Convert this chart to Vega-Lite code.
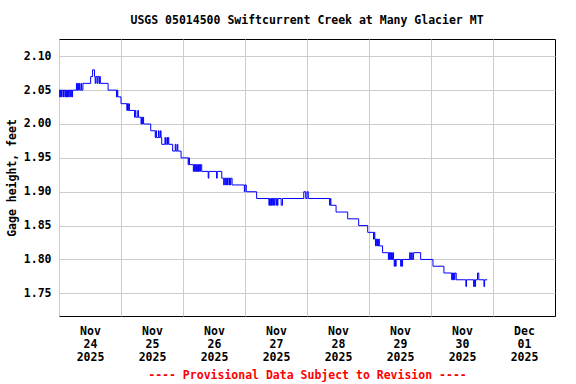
{
  "$schema": "https://vega.github.io/schema/vega-lite/v6.json",
  "width": 496,
  "height": 277,
  "autosize": "none",
  "padding": {"left": 59, "top": 39, "right": 21, "bottom": 68},
  "background": "white",
  "config": {
    "view": {"stroke": "black", "strokeWidth": 1},
    "font": "DejaVu Sans Mono"
  },
  "title": {
    "text": "USGS 05014500 Swiftcurrent Creek at Many Glacier MT",
    "font": "DejaVu Sans Mono",
    "fontSize": 11.5,
    "fontWeight": "bold",
    "color": "black",
    "anchor": "middle",
    "frame": "group",
    "baseline": "alphabetic",
    "offset": 4
  },
  "data": {
    "values": [
      {"t": "2025-11-24T00:00", "v": 2.05},
      {"t": "2025-11-24T00:15", "v": 2.04},
      {"t": "2025-11-24T00:30", "v": 2.05},
      {"t": "2025-11-24T00:45", "v": 2.04},
      {"t": "2025-11-24T01:00", "v": 2.05},
      {"t": "2025-11-24T01:30", "v": 2.04},
      {"t": "2025-11-24T01:45", "v": 2.05},
      {"t": "2025-11-24T02:15", "v": 2.04},
      {"t": "2025-11-24T02:30", "v": 2.05},
      {"t": "2025-11-24T02:45", "v": 2.04},
      {"t": "2025-11-24T03:00", "v": 2.05},
      {"t": "2025-11-24T03:15", "v": 2.04},
      {"t": "2025-11-24T03:30", "v": 2.05},
      {"t": "2025-11-24T03:45", "v": 2.04},
      {"t": "2025-11-24T04:00", "v": 2.05},
      {"t": "2025-11-24T04:30", "v": 2.04},
      {"t": "2025-11-24T04:45", "v": 2.05},
      {"t": "2025-11-24T05:00", "v": 2.04},
      {"t": "2025-11-24T05:15", "v": 2.05},
      {"t": "2025-11-24T06:45", "v": 2.06},
      {"t": "2025-11-24T07:00", "v": 2.05},
      {"t": "2025-11-24T07:15", "v": 2.06},
      {"t": "2025-11-24T07:30", "v": 2.05},
      {"t": "2025-11-24T07:45", "v": 2.06},
      {"t": "2025-11-24T08:00", "v": 2.05},
      {"t": "2025-11-24T08:30", "v": 2.06},
      {"t": "2025-11-24T08:45", "v": 2.05},
      {"t": "2025-11-24T09:15", "v": 2.06},
      {"t": "2025-11-24T12:15", "v": 2.07},
      {"t": "2025-11-24T13:00", "v": 2.08},
      {"t": "2025-11-24T13:45", "v": 2.07},
      {"t": "2025-11-24T14:00", "v": 2.06},
      {"t": "2025-11-24T14:15", "v": 2.07},
      {"t": "2025-11-24T14:45", "v": 2.06},
      {"t": "2025-11-24T15:00", "v": 2.07},
      {"t": "2025-11-24T15:30", "v": 2.06},
      {"t": "2025-11-24T15:45", "v": 2.07},
      {"t": "2025-11-24T16:00", "v": 2.06},
      {"t": "2025-11-24T19:00", "v": 2.05},
      {"t": "2025-11-24T22:15", "v": 2.04},
      {"t": "2025-11-24T22:30", "v": 2.05},
      {"t": "2025-11-24T22:45", "v": 2.04},
      {"t": "2025-11-25T00:00", "v": 2.03},
      {"t": "2025-11-25T02:15", "v": 2.02},
      {"t": "2025-11-25T02:30", "v": 2.03},
      {"t": "2025-11-25T02:45", "v": 2.02},
      {"t": "2025-11-25T03:00", "v": 2.03},
      {"t": "2025-11-25T03:15", "v": 2.02},
      {"t": "2025-11-25T05:15", "v": 2.01},
      {"t": "2025-11-25T05:30", "v": 2.02},
      {"t": "2025-11-25T05:45", "v": 2.01},
      {"t": "2025-11-25T06:30", "v": 2.02},
      {"t": "2025-11-25T06:45", "v": 2.01},
      {"t": "2025-11-25T07:45", "v": 2.00},
      {"t": "2025-11-25T08:00", "v": 2.01},
      {"t": "2025-11-25T08:15", "v": 2.00},
      {"t": "2025-11-25T08:30", "v": 2.01},
      {"t": "2025-11-25T08:45", "v": 2.00},
      {"t": "2025-11-25T11:30", "v": 1.99},
      {"t": "2025-11-25T13:15", "v": 1.98},
      {"t": "2025-11-25T13:30", "v": 1.99},
      {"t": "2025-11-25T13:45", "v": 1.98},
      {"t": "2025-11-25T14:30", "v": 1.99},
      {"t": "2025-11-25T14:45", "v": 1.98},
      {"t": "2025-11-25T15:15", "v": 1.99},
      {"t": "2025-11-25T15:30", "v": 1.98},
      {"t": "2025-11-25T15:45", "v": 1.97},
      {"t": "2025-11-25T17:00", "v": 1.98},
      {"t": "2025-11-25T17:15", "v": 1.97},
      {"t": "2025-11-25T17:45", "v": 1.98},
      {"t": "2025-11-25T18:00", "v": 1.97},
      {"t": "2025-11-25T18:15", "v": 1.98},
      {"t": "2025-11-25T18:30", "v": 1.97},
      {"t": "2025-11-25T20:00", "v": 1.96},
      {"t": "2025-11-25T21:00", "v": 1.97},
      {"t": "2025-11-25T21:15", "v": 1.96},
      {"t": "2025-11-25T21:45", "v": 1.97},
      {"t": "2025-11-25T22:00", "v": 1.96},
      {"t": "2025-11-25T23:15", "v": 1.95},
      {"t": "2025-11-26T02:00", "v": 1.94},
      {"t": "2025-11-26T02:15", "v": 1.95},
      {"t": "2025-11-26T02:30", "v": 1.94},
      {"t": "2025-11-26T04:00", "v": 1.93},
      {"t": "2025-11-26T04:15", "v": 1.94},
      {"t": "2025-11-26T04:30", "v": 1.93},
      {"t": "2025-11-26T04:45", "v": 1.94},
      {"t": "2025-11-26T05:00", "v": 1.93},
      {"t": "2025-11-26T05:15", "v": 1.94},
      {"t": "2025-11-26T05:30", "v": 1.93},
      {"t": "2025-11-26T05:45", "v": 1.94},
      {"t": "2025-11-26T06:00", "v": 1.93},
      {"t": "2025-11-26T06:15", "v": 1.94},
      {"t": "2025-11-26T06:30", "v": 1.93},
      {"t": "2025-11-26T06:45", "v": 1.94},
      {"t": "2025-11-26T07:15", "v": 1.93},
      {"t": "2025-11-26T09:45", "v": 1.92},
      {"t": "2025-11-26T10:00", "v": 1.93},
      {"t": "2025-11-26T13:00", "v": 1.92},
      {"t": "2025-11-26T13:15", "v": 1.93},
      {"t": "2025-11-26T15:00", "v": 1.92},
      {"t": "2025-11-26T15:45", "v": 1.91},
      {"t": "2025-11-26T16:00", "v": 1.92},
      {"t": "2025-11-26T16:30", "v": 1.91},
      {"t": "2025-11-26T16:45", "v": 1.92},
      {"t": "2025-11-26T17:00", "v": 1.91},
      {"t": "2025-11-26T17:15", "v": 1.92},
      {"t": "2025-11-26T17:45", "v": 1.91},
      {"t": "2025-11-26T18:00", "v": 1.92},
      {"t": "2025-11-26T18:15", "v": 1.91},
      {"t": "2025-11-26T18:30", "v": 1.92},
      {"t": "2025-11-26T19:00", "v": 1.91},
      {"t": "2025-11-26T23:45", "v": 1.90},
      {"t": "2025-11-27T00:00", "v": 1.91},
      {"t": "2025-11-27T00:30", "v": 1.90},
      {"t": "2025-11-27T04:30", "v": 1.89},
      {"t": "2025-11-27T09:15", "v": 1.88},
      {"t": "2025-11-27T09:30", "v": 1.89},
      {"t": "2025-11-27T09:45", "v": 1.88},
      {"t": "2025-11-27T10:00", "v": 1.89},
      {"t": "2025-11-27T10:15", "v": 1.88},
      {"t": "2025-11-27T10:30", "v": 1.89},
      {"t": "2025-11-27T10:45", "v": 1.88},
      {"t": "2025-11-27T11:00", "v": 1.89},
      {"t": "2025-11-27T11:15", "v": 1.88},
      {"t": "2025-11-27T11:30", "v": 1.89},
      {"t": "2025-11-27T12:00", "v": 1.88},
      {"t": "2025-11-27T12:15", "v": 1.89},
      {"t": "2025-11-27T12:30", "v": 1.88},
      {"t": "2025-11-27T12:45", "v": 1.89},
      {"t": "2025-11-27T14:00", "v": 1.88},
      {"t": "2025-11-27T14:30", "v": 1.89},
      {"t": "2025-11-27T22:45", "v": 1.90},
      {"t": "2025-11-27T23:30", "v": 1.89},
      {"t": "2025-11-28T00:00", "v": 1.90},
      {"t": "2025-11-28T00:30", "v": 1.89},
      {"t": "2025-11-28T08:45", "v": 1.88},
      {"t": "2025-11-28T09:00", "v": 1.89},
      {"t": "2025-11-28T09:15", "v": 1.88},
      {"t": "2025-11-28T11:15", "v": 1.87},
      {"t": "2025-11-28T15:45", "v": 1.86},
      {"t": "2025-11-28T20:00", "v": 1.85},
      {"t": "2025-11-28T23:30", "v": 1.84},
      {"t": "2025-11-29T01:45", "v": 1.83},
      {"t": "2025-11-29T02:00", "v": 1.84},
      {"t": "2025-11-29T02:15", "v": 1.83},
      {"t": "2025-11-29T02:30", "v": 1.82},
      {"t": "2025-11-29T02:45", "v": 1.83},
      {"t": "2025-11-29T03:00", "v": 1.82},
      {"t": "2025-11-29T03:15", "v": 1.83},
      {"t": "2025-11-29T03:30", "v": 1.82},
      {"t": "2025-11-29T03:45", "v": 1.83},
      {"t": "2025-11-29T04:00", "v": 1.82},
      {"t": "2025-11-29T05:15", "v": 1.81},
      {"t": "2025-11-29T07:30", "v": 1.80},
      {"t": "2025-11-29T07:45", "v": 1.81},
      {"t": "2025-11-29T08:00", "v": 1.80},
      {"t": "2025-11-29T08:15", "v": 1.81},
      {"t": "2025-11-29T08:30", "v": 1.80},
      {"t": "2025-11-29T08:45", "v": 1.81},
      {"t": "2025-11-29T09:00", "v": 1.80},
      {"t": "2025-11-29T09:15", "v": 1.81},
      {"t": "2025-11-29T09:30", "v": 1.80},
      {"t": "2025-11-29T09:45", "v": 1.79},
      {"t": "2025-11-29T10:00", "v": 1.80},
      {"t": "2025-11-29T10:15", "v": 1.79},
      {"t": "2025-11-29T10:30", "v": 1.80},
      {"t": "2025-11-29T12:15", "v": 1.79},
      {"t": "2025-11-29T12:30", "v": 1.80},
      {"t": "2025-11-29T12:45", "v": 1.79},
      {"t": "2025-11-29T13:00", "v": 1.80},
      {"t": "2025-11-29T15:45", "v": 1.81},
      {"t": "2025-11-29T16:00", "v": 1.80},
      {"t": "2025-11-29T16:30", "v": 1.81},
      {"t": "2025-11-29T16:45", "v": 1.80},
      {"t": "2025-11-29T17:15", "v": 1.81},
      {"t": "2025-11-29T20:00", "v": 1.80},
      {"t": "2025-11-30T00:45", "v": 1.79},
      {"t": "2025-11-30T05:00", "v": 1.78},
      {"t": "2025-11-30T08:00", "v": 1.77},
      {"t": "2025-11-30T08:15", "v": 1.78},
      {"t": "2025-11-30T08:30", "v": 1.77},
      {"t": "2025-11-30T08:45", "v": 1.78},
      {"t": "2025-11-30T09:00", "v": 1.77},
      {"t": "2025-11-30T09:15", "v": 1.78},
      {"t": "2025-11-30T09:45", "v": 1.77},
      {"t": "2025-11-30T13:30", "v": 1.76},
      {"t": "2025-11-30T13:45", "v": 1.77},
      {"t": "2025-11-30T16:30", "v": 1.76},
      {"t": "2025-11-30T16:45", "v": 1.77},
      {"t": "2025-11-30T17:00", "v": 1.76},
      {"t": "2025-11-30T17:15", "v": 1.77},
      {"t": "2025-11-30T18:00", "v": 1.78},
      {"t": "2025-11-30T18:30", "v": 1.77},
      {"t": "2025-11-30T20:30", "v": 1.76},
      {"t": "2025-11-30T20:45", "v": 1.77},
      {"t": "2025-11-30T21:45", "v": 1.77}
    ]
  },
  "mark": {"type": "line", "interpolate": "step-after", "color": "#0000ff", "strokeWidth": 1, "clip": true},
  "encoding": {
    "x": {
      "field": "t",
      "type": "temporal",
      "scale": {
        "domain": [
          {"year": 2025, "month": 11, "date": 24},
          {"year": 2025, "month": 12, "date": 2}
        ],
        "nice": false
      },
      "axis": {
        "values": [
          {"year": 2025, "month": 11, "date": 24},
          {"year": 2025, "month": 11, "date": 25},
          {"year": 2025, "month": 11, "date": 26},
          {"year": 2025, "month": 11, "date": 27},
          {"year": 2025, "month": 11, "date": 28},
          {"year": 2025, "month": 11, "date": 29},
          {"year": 2025, "month": 11, "date": 30},
          {"year": 2025, "month": 12, "date": 1}
        ],
        "labelExpr": "[timeFormat(datum.value, '%b'), timeFormat(datum.value, '%d'), timeFormat(datum.value, '%Y')]",
        "labelOffset": 31,
        "labelFlush": false,
        "labelOverlap": false,
        "labelBaseline": "top",
        "labelPadding": 9,
        "labelLineHeight": 13,
        "labelFont": "DejaVu Sans Mono",
        "labelFontSize": 11.5,
        "labelFontWeight": "bold",
        "labelColor": "black",
        "ticks": false,
        "tickSize": 0,
        "domain": false,
        "grid": true,
        "gridColor": "#cccccc",
        "gridWidth": 1,
        "gridOpacity": 1,
        "title": "---- Provisional Data Subject to Revision ----",
        "titleFont": "DejaVu Sans Mono",
        "titleFontSize": 11.5,
        "titleFontWeight": "bold",
        "titleColor": "#ff0000",
        "titlePadding": 7
      }
    },
    "y": {
      "field": "v",
      "type": "quantitative",
      "scale": {"domain": [1.7165, 2.1255], "nice": false, "zero": false},
      "axis": {
        "values": [1.75, 1.8, 1.85, 1.9, 1.95, 2.0, 2.05, 2.1],
        "format": ".2f",
        "labelFont": "DejaVu Sans Mono",
        "labelFontSize": 11.5,
        "labelFontWeight": "bold",
        "labelColor": "black",
        "labelPadding": 8,
        "ticks": false,
        "tickSize": 0,
        "domain": false,
        "grid": true,
        "gridColor": "#cccccc",
        "gridWidth": 1,
        "gridOpacity": 1,
        "title": "Gage height, feet",
        "titleFont": "DejaVu Sans Mono",
        "titleFontSize": 11.5,
        "titleFontWeight": "bold",
        "titleColor": "black",
        "titlePadding": 6
      }
    }
  }
}
